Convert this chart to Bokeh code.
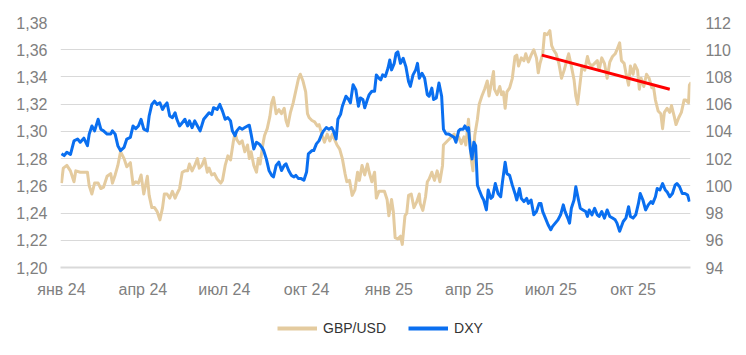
import datetime as dt
from bokeh.plotting import figure
from bokeh.layouts import column
from bokeh.models import (Range1d, LinearAxis, FixedTicker, CustomJSTickFormatter,
                          Legend, LegendItem)
from bokeh.embed import file_html
from bokeh.resources import INLINE

# ---------------- data (days counted from 2024-01-01) ----------------
START = dt.datetime(2024, 1, 1)

gbp_day = [0, 2, 6, 10, 14, 16, 21, 25, 29, 31, 34, 37, 41, 44, 47, 51, 55, 57, 60, 63, 66, 70, 73, 77, 80,
           83, 86, 89, 92, 96, 98, 101, 104, 107, 110, 113, 115, 118, 121, 124, 127, 129, 132, 135, 138, 141, 143, 146, 149, 152, 154, 157, 160, 163, 165, 168, 171,
           174, 178, 180, 183, 186, 189, 192, 194, 196, 199, 202, 205, 208, 210, 212, 215, 218, 220, 222, 225, 227, 230, 233, 235, 237, 240, 243, 246, 249, 251, 253, 256, 259, 262, 265,
           267, 270, 273, 275, 277, 280, 283, 286, 288, 291, 294, 297, 300, 303, 306, 308, 311, 314, 317, 319, 322, 325, 328, 331, 333, 336, 339, 342, 344, 347, 350, 352, 355,
           359, 361, 364, 366, 369, 371, 373, 376, 379, 381, 384, 386, 388, 391, 394, 397, 400, 401, 404, 407, 409, 411, 414, 417, 420, 423, 426, 427, 430, 433, 436, 439, 441, 444,
           447, 450, 452, 455, 456, 458, 460, 462, 465, 467, 470, 473, 476, 478, 481, 483, 484, 487, 490, 492, 494, 496, 498, 501, 504, 507, 509, 511, 514, 517, 519, 522, 525, 528, 531, 533,
           535, 538, 540, 543, 546, 548, 550, 553, 556, 559, 562, 564, 567, 570, 573, 575, 577, 579, 582, 585, 588, 590, 593, 596, 599, 601, 604, 607, 610, 613, 616, 619, 621,
           624, 626, 629, 631, 634, 636, 639, 641, 644, 646, 648, 651, 654, 657, 660, 662, 664, 667, 670, 672, 674, 677, 680, 682, 685, 687, 690, 693, 696, 698, 701, 702, 704]
gbp_val = [1.262, 1.273, 1.275, 1.271, 1.263, 1.271, 1.270, 1.270, 1.270, 1.260, 1.254, 1.262, 1.262, 1.258, 1.259, 1.267, 1.269, 1.262, 1.268, 1.275, 1.285, 1.280, 1.274, 1.277, 1.261,
           1.263, 1.262, 1.268, 1.254, 1.267, 1.253, 1.244, 1.244, 1.241, 1.235, 1.244, 1.254, 1.254, 1.251, 1.256, 1.251, 1.254, 1.258, 1.270, 1.271, 1.271, 1.276, 1.271, 1.275, 1.280, 1.273, 1.275, 1.280, 1.270, 1.273, 1.268, 1.269,
           1.265, 1.262, 1.264, 1.275, 1.282, 1.279, 1.292, 1.299, 1.294, 1.291, 1.293, 1.285, 1.290, 1.280, 1.285, 1.275, 1.270, 1.280, 1.276, 1.290, 1.297, 1.302, 1.311, 1.321, 1.325, 1.313, 1.316, 1.313, 1.317, 1.308, 1.304, 1.314, 1.321, 1.330, 1.339,
           1.342, 1.337, 1.329, 1.313, 1.310, 1.308, 1.307, 1.304, 1.305, 1.298, 1.292, 1.298, 1.293, 1.298, 1.293, 1.290, 1.287, 1.280, 1.269, 1.263, 1.264, 1.253, 1.257, 1.270, 1.264, 1.275, 1.268, 1.276, 1.270, 1.263, 1.270, 1.251, 1.256,
           1.256, 1.256, 1.250, 1.238, 1.250, 1.241, 1.222, 1.221, 1.223, 1.217, 1.238, 1.240, 1.253, 1.254, 1.244, 1.248, 1.254, 1.247, 1.242, 1.252, 1.263, 1.265, 1.270, 1.264, 1.271, 1.263, 1.275, 1.290, 1.292, 1.294, 1.296, 1.298, 1.293, 1.296,
           1.291, 1.296, 1.290, 1.309, 1.299, 1.280, 1.271, 1.297, 1.309, 1.320, 1.326, 1.331, 1.337, 1.326, 1.337, 1.344, 1.331, 1.327, 1.333, 1.327, 1.329, 1.317, 1.329, 1.332, 1.339, 1.355, 1.356, 1.348, 1.354, 1.352, 1.357, 1.351, 1.356, 1.360, 1.354, 1.343,
           1.350, 1.357, 1.372, 1.371, 1.374, 1.363, 1.360, 1.357, 1.350, 1.339, 1.345, 1.350, 1.357, 1.348, 1.338, 1.326, 1.320, 1.331, 1.348, 1.345, 1.355, 1.350, 1.348, 1.350, 1.352, 1.345, 1.354, 1.350, 1.339, 1.351, 1.355, 1.357, 1.360,
           1.365, 1.352, 1.350, 1.343, 1.334, 1.348, 1.342, 1.349, 1.345, 1.331, 1.339, 1.333, 1.342, 1.339, 1.332, 1.332, 1.323, 1.315, 1.313, 1.302, 1.314, 1.317, 1.314, 1.319, 1.311, 1.305, 1.310, 1.314, 1.323, 1.323, 1.321, 1.334, 1.336]

dxy_day = [0, 3, 6, 10, 14, 18, 21, 25, 29, 31, 34, 37, 41, 44, 47, 51, 55, 57, 60, 63, 66, 70, 73, 77, 80,
           83, 86, 89, 92, 96, 98, 101, 104, 107, 110, 113, 115, 118, 121, 124, 127, 129, 132, 135, 138, 141, 143, 146, 149, 152, 155, 159, 162, 165, 168, 170, 174, 177,
           180, 183, 186, 189, 191, 194, 196, 199, 202, 205, 208, 210, 212, 215, 218, 221, 224, 226, 229, 232, 235, 237, 240, 243, 246, 249, 251, 254, 257, 260, 262, 265,
           268, 271, 274, 276, 280, 282, 285, 288, 291, 293, 296, 299, 302, 304, 307, 309, 312, 314, 318, 321, 323, 326, 329, 332, 334, 337, 339, 342, 344, 347, 350, 352, 355,
           357, 359, 362, 365, 367, 369, 372, 374, 376, 379, 382, 385, 388, 390, 393, 396, 398, 400, 403, 406, 409, 411, 414, 416, 419, 422, 425, 427, 430, 433, 436, 439, 441, 444,
           446, 449, 451, 454, 455, 457, 459, 461, 463, 465, 467, 470, 472, 475, 477, 480, 482, 485, 488, 491, 493, 496, 498, 501, 504, 507, 509, 512, 514, 517, 520, 522, 525, 528, 531, 534,
           536, 538, 541, 544, 547, 549, 552, 555, 558, 561, 563, 566, 568, 570, 573, 575, 578, 580, 583, 586, 588, 590, 593, 596, 599, 601, 604, 607, 610, 613, 616, 619, 621,
           624, 628, 631, 634, 636, 639, 642, 645, 647, 650, 653, 656, 659, 661, 664, 666, 669, 672, 675, 677, 680, 683, 686, 688, 691, 694, 697, 700, 702]
dxy_val = [102.35, 102.22, 102.47, 102.30, 103.31, 103.44, 103.20, 103.50, 102.95, 103.80, 104.40, 104.04, 104.89, 104.16, 104.04, 103.80, 103.80, 104.04, 103.80, 102.95, 102.59, 102.83, 103.44, 103.56, 104.40,
           104.20, 104.40, 104.89, 104.16, 104.04, 105.13, 105.98, 106.22, 105.98, 106.10, 105.61, 105.85, 106.10, 105.13, 105.01, 105.37, 104.89, 104.40, 104.64, 104.89, 104.40, 104.77, 104.28, 104.77, 104.40, 104.04, 104.89, 105.13, 105.37, 105.25, 105.74, 105.61, 105.98,
           105.49, 104.89, 105.01, 104.77, 104.04, 103.68, 104.04, 104.28, 104.16, 104.28, 104.40, 104.45, 103.80, 102.71, 103.20, 103.08, 102.83, 102.59, 101.98, 101.13, 100.77, 100.65, 101.50, 101.74, 101.13, 101.50, 101.62, 101.13, 100.77, 100.65, 100.77, 100.53,
           100.53, 100.41, 101.01, 102.35, 102.59, 102.59, 103.08, 103.32, 103.80, 104.04, 104.28, 104.16, 104.28, 104.04, 103.44, 104.89, 105.25, 105.85, 106.58, 106.34, 106.10, 107.43, 107.07, 105.85, 106.46, 106.34, 105.74, 106.34, 106.70, 106.95, 106.95, 108.15, 107.90,
           107.79, 108.15, 108.03, 108.64, 109.24, 108.52, 109.00, 109.73, 109.85, 109.00, 109.37, 108.76, 107.67, 107.31, 108.15, 108.52, 109.00, 107.90, 108.27, 107.90, 106.70, 106.58, 107.18, 106.34, 106.46, 107.55, 106.58, 104.16, 103.80, 103.80, 103.68, 103.56, 103.20, 104.04,
           104.16, 104.16, 104.40, 104.04, 104.28, 102.71, 101.98, 103.20, 102.95, 100.05, 99.69, 99.20, 98.96, 98.23, 99.69, 99.08, 99.20, 100.17, 99.44, 99.20, 100.29, 101.74, 100.89, 100.77, 100.05, 99.44, 98.96, 99.81, 99.08, 98.84, 99.08, 98.71, 98.96, 97.87, 98.11, 98.71,
           98.71, 98.11, 97.63, 97.14, 96.78, 97.02, 97.26, 97.50, 97.87, 98.60, 98.11, 97.63, 97.26, 98.35, 98.96, 99.93, 98.96, 98.35, 98.23, 98.11, 97.75, 98.23, 97.87, 98.35, 97.87, 97.75, 98.11, 97.63, 98.23, 97.75, 97.63, 97.50, 97.26,
           96.66, 97.38, 97.63, 98.47, 97.75, 97.63, 97.87, 98.71, 99.44, 98.96, 98.23, 98.60, 98.84, 98.71, 99.20, 99.81, 99.69, 100.17, 99.69, 99.56, 99.20, 99.44, 100.05, 100.17, 99.93, 99.44, 99.44, 99.32, 98.84]

trend_day = [537, 680]
trend_val = [1.356, 1.331]

gbp_ticks = [1.20, 1.22, 1.24, 1.26, 1.28, 1.30, 1.32, 1.34, 1.36, 1.38]
dxy_ticks = [94, 96, 98, 100, 102, 104, 106, 108, 110, 112]
month_ticks = [dt.datetime(2024, 1, 1), dt.datetime(2024, 4, 1), dt.datetime(2024, 7, 1), dt.datetime(2024, 10, 1),
               dt.datetime(2025, 1, 1), dt.datetime(2025, 4, 1), dt.datetime(2025, 7, 1), dt.datetime(2025, 10, 1)]
month_labels = ["янв 24", "апр 24", "июл 24", "окт 24", "янв 25", "апр 25", "июл 25", "окт 25"]
series_names = ["GBP/USD", "DXY"]

assert len(gbp_day) == len(gbp_val)
assert len(dxy_day) == len(dxy_val)

EPOCH = dt.datetime(1970, 1, 1)


def ms_from_day(d):
    return (START + dt.timedelta(days=d) - EPOCH).total_seconds() * 1000.0


def ms_from_dt(t):
    return (t - EPOCH).total_seconds() * 1000.0


gbp_x = [ms_from_day(d) for d in gbp_day]
dxy_x = [ms_from_day(d) for d in dxy_day]
trend_x = [ms_from_day(d) for d in trend_day]
tick_ms = [ms_from_dt(t) for t in month_ticks]

FONT = "Liberation Sans"
TICK_COLOR = "#808080"
GRID = "#d9d9d9"
TAN = "#e4cb9f"
BLUE = "#0a6ff0"

p = figure(width=746, height=300, output_backend="svg", toolbar_location=None,
           x_axis_type="datetime",
           x_range=Range1d(ms_from_day(-1.1), ms_from_day(703.2)),
           y_range=Range1d(1.20, 1.38),
           min_border_left=60, min_border_right=56, min_border_top=22, min_border_bottom=30)
p.outline_line_color = None
p.background_fill_color = "white"
p.border_fill_color = "white"

p.xgrid.visible = False
p.ygrid.ticker = FixedTicker(ticks=gbp_ticks)
p.ygrid.grid_line_color = GRID
p.ygrid.grid_line_width = 1

# left axis
ya = p.yaxis[0]
ya.ticker = FixedTicker(ticks=gbp_ticks)
ya.formatter = CustomJSTickFormatter(code="return tick.toFixed(2).replace('.', ',');")
ya.axis_line_color = None
ya.major_tick_line_color = None
ya.minor_tick_line_color = None
ya.major_label_text_color = TICK_COLOR
ya.major_label_text_font = FONT
ya.major_label_text_font_size = "16px"
ya.major_label_standoff = 7

# right axis
p.extra_y_ranges = {"dxy": Range1d(94, 112)}
ra = LinearAxis(y_range_name="dxy", ticker=FixedTicker(ticks=dxy_ticks))
ra.axis_line_color = None
ra.major_tick_line_color = None
ra.minor_tick_line_color = None
ra.major_label_text_color = TICK_COLOR
ra.major_label_text_font = FONT
ra.major_label_text_font_size = "16px"
ra.major_label_standoff = 9
p.add_layout(ra, "right")

# bottom axis
xa = p.xaxis[0]
xa.ticker = FixedTicker(ticks=tick_ms)
xa.formatter = CustomJSTickFormatter(
    args=dict(tvals=tick_ms, tlabels=month_labels),
    code="""
let best = -1, bd = Infinity;
for (let i = 0; i < tvals.length; i++) { const dd = Math.abs(tvals[i] - tick); if (dd < bd) { bd = dd; best = i; } }
return (best >= 0 && bd < 86400000) ? tlabels[best] : '';
""")
xa.axis_line_color = GRID
xa.axis_line_width = 2
xa.major_tick_line_color = None
xa.minor_tick_line_color = None
xa.major_label_text_color = TICK_COLOR
xa.major_label_text_font = FONT
xa.major_label_text_font_size = "16px"
xa.major_label_standoff = 7

p.line(gbp_x, gbp_val, line_color=TAN, line_width=3, line_join="round")
p.line(dxy_x, dxy_val, y_range_name="dxy", line_color=BLUE, line_width=3, line_join="round")
p.line(trend_x, trend_val, line_color="#ff0000", line_width=3)

# legend strip below the chart (swatch renderers lie outside its visible range)
lg = figure(width=746, height=55, output_backend="svg", toolbar_location=None,
            x_range=Range1d(0, 1), y_range=Range1d(0, 1),
            x_axis_location=None, y_axis_location=None,
            min_border=0, min_border_left=0, min_border_right=0, min_border_top=0, min_border_bottom=0)
lg.outline_line_color = None
lg.xgrid.visible = False
lg.ygrid.visible = False
lg.background_fill_color = "white"
lg.border_fill_color = "white"
sw_g = lg.line([5, 6], [5, 6], line_color=TAN, line_width=4)
sw_d = lg.line([5, 6], [5, 6], line_color=BLUE, line_width=4)

legend = Legend(items=[LegendItem(label=series_names[0], renderers=[sw_g]),
                       LegendItem(label=series_names[1], renderers=[sw_d])],
                orientation="horizontal", location=(217, 19),
                glyph_width=40, glyph_height=14, spacing=22, label_standoff=6,
                label_text_font=FONT, label_text_font_size="14px", label_text_color="#333333",
                border_line_color=None, background_fill_alpha=0, margin=0, padding=0)
lg.add_layout(legend, "center")

layout = column(p, lg, spacing=0)
open("out.html", "w").write(file_html(layout, INLINE))
